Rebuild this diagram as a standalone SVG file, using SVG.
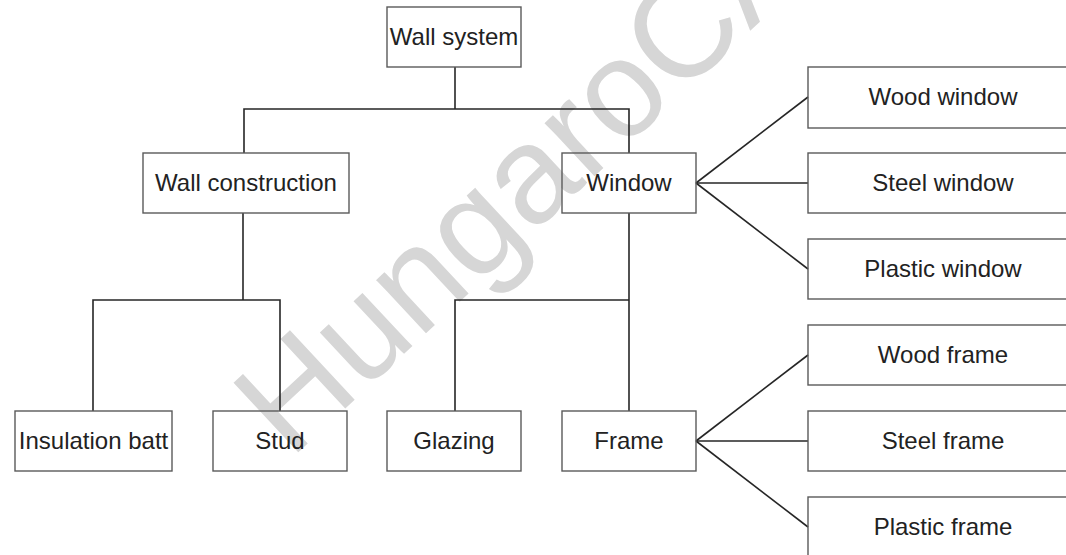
<svg xmlns="http://www.w3.org/2000/svg" width="1066" height="555" viewBox="0 0 1066 555">
<style>
.box{fill:none;stroke:#5a5a5a;stroke-width:1.4}
.lbl{font-family:"Liberation Sans",Arial,sans-serif;font-size:24px;fill:#222;text-anchor:middle}
.wire{fill:none;stroke:#262626;stroke-width:1.6}
.wm{font-family:"Liberation Sans",Arial,sans-serif;font-size:138px;fill:#d6d6d6}
</style>
<rect width="1066" height="555" fill="#fff"/>
<text class="wm" x="290" y="460" transform="rotate(-43 290 460)">HungaroCA</text>
<g id="connectors" class="wire">
<polyline points="455,67 455,109"/>
<polyline points="244,153 244,109 629,109 629,153"/>
<polyline points="243,213 243,300"/>
<polyline points="93,411 93,300 280,300 280,411"/>
<polyline points="629,213 629,411"/>
<polyline points="455,411 455,300 629,300"/>
<line x1="696" y1="183" x2="808" y2="97"/>
<line x1="696" y1="183" x2="808" y2="183"/>
<line x1="696" y1="183" x2="808" y2="269"/>
<line x1="696" y1="441" x2="808" y2="355"/>
<line x1="696" y1="441" x2="808" y2="441"/>
<line x1="696" y1="441" x2="808" y2="527"/>
</g>
<g id="wall-system"><rect class="box" x="387" y="7" width="134" height="60"/><text class="lbl" x="454" y="45">Wall system</text></g>
<g id="wall-construction"><rect class="box" x="143" y="153" width="206" height="60"/><text class="lbl" x="246" y="191">Wall construction</text></g>
<g id="window"><rect class="box" x="562" y="153" width="134" height="60"/><text class="lbl" x="629" y="191">Window</text></g>
<g id="insulation-batt"><rect class="box" x="15" y="411" width="157" height="60"/><text class="lbl" x="93.5" y="449">Insulation batt</text></g>
<g id="stud"><rect class="box" x="213" y="411" width="134" height="60"/><text class="lbl" x="280" y="449">Stud</text></g>
<g id="glazing"><rect class="box" x="387" y="411" width="134" height="60"/><text class="lbl" x="454" y="449">Glazing</text></g>
<g id="frame"><rect class="box" x="562" y="411" width="134" height="60"/><text class="lbl" x="629" y="449">Frame</text></g>
<g id="wood-window"><rect class="box" x="808" y="67" width="280" height="61"/><text class="lbl" x="943" y="105">Wood window</text></g>
<g id="steel-window"><rect class="box" x="808" y="153" width="280" height="60"/><text class="lbl" x="943" y="191">Steel window</text></g>
<g id="plastic-window"><rect class="box" x="808" y="239" width="280" height="60"/><text class="lbl" x="943" y="277">Plastic window</text></g>
<g id="wood-frame"><rect class="box" x="808" y="325" width="280" height="60"/><text class="lbl" x="943" y="363">Wood frame</text></g>
<g id="steel-frame"><rect class="box" x="808" y="411" width="280" height="60"/><text class="lbl" x="943" y="449">Steel frame</text></g>
<g id="plastic-frame"><rect class="box" x="808" y="497" width="280" height="70"/><text class="lbl" x="943" y="535">Plastic frame</text></g>
</svg>
